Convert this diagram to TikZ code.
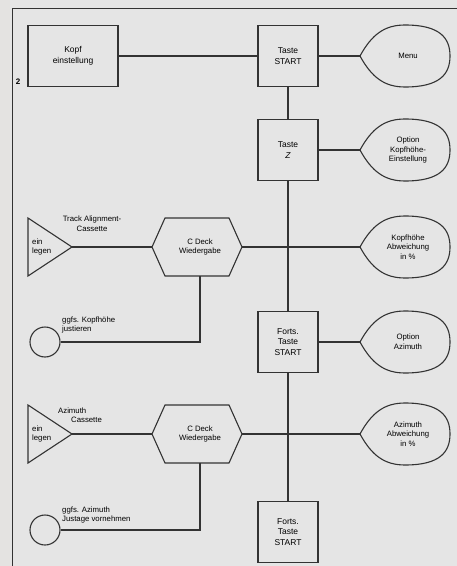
\documentclass[tikz,border=0pt]{standalone}
\usepackage{fontspec}
\setmainfont{Liberation Sans}
\begin{document}
\begin{tikzpicture}[x=1bp,y=-1bp,
  ln/.style={draw=black!80, line width=1.1bp},
  box/.style={ln, rectangle, minimum width=60bp, minimum height=61bp, inner sep=1bp, align=center, font=\fontsize{8.5}{10.5}\selectfont},
  txt/.style={align=center, font=\fontsize{7.8}{9.6}\selectfont, inner sep=0pt},
  ltxt/.style={align=left, font=\fontsize{7.8}{9.6}\selectfont, inner sep=0pt, anchor=west}]
\useasboundingbox (0,0) rectangle (457,566);
\fill[black!10] (0,0) rectangle (457,566);
\fill[brown!15!black!12] (0,0) rectangle (10,566);
\draw[ln, line width=0.8bp] (12,566) -- (12,8) -- (457,8);
% drop shape macro
\newcommand{\dropshape}[2]{%
  \draw[ln] (360,#1) .. controls (372,#1-22) and (385,#1-31) .. (405,#1-31)
     .. controls (440,#1-31) and (450,#1-18) .. (450,#1)
     .. controls (450,#1+18) and (440,#1+31) .. (405,#1+31)
     .. controls (385,#1+31) and (372,#1+22) .. (360,#1);
  \coordinate (#2) at (360,#1);}
\newcommand{\hexshape}[2]{%
  \draw[ln] (152,#1) -- (165,#1-29) -- (229,#1-29) -- (242,#1) -- (229,#1+29) -- (165,#1+29) -- cycle;
  \coordinate (#2w) at (152,#1); \coordinate (#2e) at (242,#1); \coordinate (#2s) at (200,#1+29);}
\newcommand{\trishape}[2]{%
  \draw[ln] (28,#1-29) -- (72,#1) -- (28,#1+29) -- cycle;
  \coordinate (#2) at (72,#1);}
% boxes
\node[box, minimum width=90bp] (kopf) at (73,56) {Kopf\\einstellung};
\node[txt, font=\fontsize{8}{9}\selectfont\bfseries] (two) at (18,82) {2};
\node[box] (start) at (288,56) {Taste\\START};
\node[box] (tz) at (288,150) {Taste\\\textit{Z}};
\node[box] (fs1) at (288,342) {Forts.\\Taste\\START};
\node[box] (fs2) at (288,532) {Forts.\\Taste\\START};
% drops
\dropshape{56}{menu}
\node[txt] (menut) at (408,56) {Menu};
\dropshape{150}{optk}
\node[txt] (optkt) at (408,150) {Option\\Kopfhöhe-\\Einstellung};
\dropshape{247}{abwk}
\node[txt] (abwkt) at (408,247) {Kopfhöhe\\Abweichung\\in \%};
\dropshape{342}{opta}
\node[txt] (optat) at (408,342) {Option\\Azimuth};
\dropshape{434}{abwa}
\node[txt] (abwat) at (408,434) {Azimuth\\Abweichung\\in \%};
% hexagons and triangles
\hexshape{247}{h1}
\node[txt] (h1t) at (200,247) {C Deck\\Wiedergabe};
\hexshape{434}{h2}
\node[txt] (h2t) at (200,434) {C Deck\\Wiedergabe};
\trishape{247}{t1}
\node[ltxt] (t1t) at (32,247) {ein\\legen};
\trishape{434}{t2}
\node[ltxt] (t2t) at (32,434) {ein\\legen};
\node[txt] (tac) at (92,224) {Track Alignment-\\Cassette};
\node[ltxt] (azc) at (58,415) {Azimuth\\\hspace*{13bp}Cassette};
% circles
\node[ln, circle, minimum size=30bp, inner sep=0pt] (c1) at (45,342) {};
\node[ln, circle, minimum size=30bp, inner sep=0pt] (c2) at (45,530) {};
\node[ltxt] (c1t) at (62,325) {ggfs. Kopfhöhe\\justieren};
\node[ltxt] (c2t) at (62,515) {ggfs. Azimuth\\Justage vornehmen};
% connectors
\draw[ln] (kopf) -- (start);
\draw[ln] (start) -- (menu);
\draw[ln] (start) -- (tz);
\draw[ln] (tz.east) -- (optk);
\draw[ln] (tz) -- (fs1);
\draw[ln] (fs1.east) -- (opta);
\draw[ln] (fs1) -- (fs2);
\draw[ln] (t1) -- (h1w);
\draw[ln] (h1e) -- (abwk);
\draw[ln] (t2) -- (h2w);
\draw[ln] (h2e) -- (abwa);
\draw[ln] (h1s) |- (c1);
\draw[ln] (h2s) |- (c2);
\end{tikzpicture}
\end{document}
